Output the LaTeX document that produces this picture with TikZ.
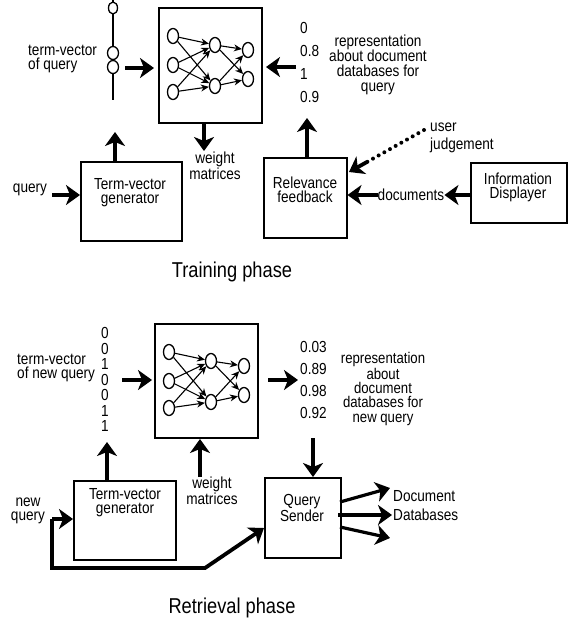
\documentclass[tikz,border=0pt]{standalone}
\usepackage{fontspec}
\setmainfont[FakeStretch=0.85]{Liberation Sans}
\usetikzlibrary{arrows.meta,shapes.geometric}
\newcommand\mynet[2]{%
  \begin{scope}[shift={#1}]
    \node[neuron] (#2i1) at (15,29) {};
    \node[neuron] (#2i2) at (15,58) {};
    \node[neuron] (#2i3) at (15,85) {};
    \node[neuron] (#2h1) at (57,38) {};
    \node[neuron] (#2h2) at (57,79) {};
    \node[neuron] (#2o1) at (90,43) {};
    \node[neuron] (#2o2) at (90,72) {};
    \foreach \i in {1,2,3} {\foreach \h in {1,2} {\draw[syn] (#2i\i) -- (#2h\h);}}
    \foreach \h in {1,2} {\foreach \o in {1,2} {\draw[syn] (#2h\h) -- (#2o\o);}}
  \end{scope}}
\begin{document}
\begin{tikzpicture}[x=1pt,y=-1pt,
  box/.style={draw, line width=1.5pt, inner sep=0, anchor=north west},
  netbox/.style={box, minimum width=103pt, minimum height=115pt},
  big/.style={line width=3.8pt, -{Stealth[length=14pt,width=20pt,inset=4pt]}},
  neuron/.style={draw, ellipse, minimum width=11pt, minimum height=15pt, inner sep=0, line width=1.3pt, fill=white},
  syn/.style={line width=1.1pt, -{Stealth[length=8pt,width=7pt]}},
  txt/.style={inner sep=0, font=\fontsize{16}{14}\selectfont, align=center},
  title/.style={inner sep=0, font=\fontsize{21.5}{24}\selectfont},
  dotline/.style={line width=4pt, line cap=round, dash pattern=on 0pt off 6.5pt}
]
\useasboundingbox (0,0) rectangle (573,619);
\fill[white] (0,0) rectangle (573,619);

% ================= Training phase =================
\coordinate (tvtop) at (113,0);
\coordinate (tvbot) at (113,100);
\draw[line width=1.3pt] (tvtop) -- (tvbot);
\node[neuron, minimum height=12pt, minimum width=9pt] (tvo1) at (113,8) {};
\node[neuron, minimum height=13pt] (tvo2) at (113,53) {};
\node[neuron, minimum height=13pt] (tvo3) at (113,67) {};
\node[txt, align=left, anchor=west] (tvq1) at (28,59) {term-vector\\of query};

\node[netbox] (nn1) at (158,7) {};
\mynet{(158,7)}{a}
\coordinate (tvq1a) at (125,68);
\coordinate (nn1in) at (154,68);
\draw[big] (tvq1a) -- (nn1in);

\node[txt, align=left, anchor=west, font=\fontsize{16}{22.8}\selectfont] (num1) at (300,62.5) {0\\0.8\\1\\0.9};
\coordinate (num1a) at (296,67);
\coordinate (nn1out) at (266,67);
\draw[big] (num1a) -- (nn1out);
\node[txt, font=\fontsize{16}{15}\selectfont] (rep1) at (378,65) {representation\\about document\\databases for\\query};

\node[txt] (wm1) at (215,166) {weight\\matrices};
\coordinate (nn1b) at (204,122);
\coordinate (wm1a) at (204,151);
\draw[big] (nn1b) -- (wm1a);

\node[box, minimum width=101pt, minimum height=79pt] (tvg1) at (80,161) {};
\node[txt] (tvg1t) at (130,193) {Term-vector\\generator};
\coordinate (tv1up) at (115,132);
\draw[big] (tvg1.north -| tv1up) -- (tv1up);

\node[txt] (q1) at (30,190) {query};
\coordinate (q1a) at (52,195);
\draw[big] (q1a) -- (tvg1.west |- q1a);

\node[box, minimum width=83pt, minimum height=80pt] (rf) at (263,157) {};
\node[txt] (rft) at (305,190) {Relevance\\feedback};
\coordinate (rfup) at (307,118);
\draw[big] (rf.north -| rfup) -- (rfup);

\node[box, minimum width=96pt, minimum height=60pt] (id) at (470,162) {};
\node[txt] (idt) at (518,187) {Information\\Displayer};
\node[txt] (docs) at (411,195) {documents};
\coordinate (docy) at (0,195);
\draw[big] (id.west |- docy) -- (docs.east);
\draw[big] (docs.west) -- (rf.east |- docy);

\node[txt, align=left, anchor=west, font=\fontsize{16}{18}\selectfont] (uj) at (430,138) {user\\judgement};
\coordinate (ujs) at (424,130);
\coordinate (ujm) at (367,162);
\coordinate (rfj) at (349,172);
\draw[dotline] (ujs) -- (ujm);
\draw[big] (ujm) -- (rfj);

\node[title] (tp) at (232,272) {Training phase};

% ================= Retrieval phase =================
\node[txt, font=\fontsize{16}{15.5}\selectfont] (dig) at (105,379.5) {0\\0\\1\\0\\0\\1\\1};
\node[txt, align=left, anchor=west] (tvq2) at (17,368) {term-vector\\of new query};

\node[netbox, minimum height=114pt] (nn2) at (154,323) {};
\mynet{(154,323)}{b}
\coordinate (tv2a) at (122,380);
\coordinate (nn2in) at (152,380);
\draw[big] (tv2a) -- (nn2in);
\coordinate (nn2out) at (268,380);
\coordinate (num2in) at (298,380);
\draw[big] (nn2out) -- (num2in);

\node[txt, align=left, anchor=west, font=\fontsize{16}{21.7}\selectfont] (num2) at (300,380) {0.03\\0.89\\0.98\\0.92};
\node[txt, font=\fontsize{15.5}{14.2}\selectfont] (rep2) at (383,389) {representation\\about\\document\\databases for\\new query};

\node[box, minimum width=76pt, minimum height=80pt] (qs) at (264,477) {};
\node[txt] (qst) at (302,508) {Query\\Sender};
\coordinate (num2d) at (313,438);
\draw[big] (num2d) -- (qs.north -| num2d);

\coordinate (qs1) at (340,502);
\coordinate (qs2) at (338,515);
\coordinate (qs3) at (340,527);
\coordinate (o1) at (390,488);
\coordinate (o2) at (392,515);
\coordinate (o3) at (390,538);
\draw[big, line width=3.2pt] (qs1) -- (o1);
\draw[big, line width=3.2pt] (qs2) -- (o2);
\draw[big, line width=3.2pt] (qs3) -- (o3);
\node[txt, align=left, anchor=west, font=\fontsize{16}{19}\selectfont] (ddb) at (393,506) {Document\\Databases};

\node[box, minimum width=102pt, minimum height=79pt] (tvg2) at (73,480) {};
\node[txt] (tvg2t) at (125,503) {Term-vector\\generator};
\coordinate (dgin) at (107,442);
\draw[big] (tvg2.north -| dgin) -- (dgin);

\node[txt] (wm2) at (212,491) {weight\\matrices};
\coordinate (wm2a) at (200,477);
\coordinate (nn2b) at (200,439);
\draw[big] (wm2a) -- (nn2b);

\node[txt] (nq) at (28,511) {new\\query};
\coordinate (nqa) at (52,519);
\draw[big] (nqa) -- (tvg2.west |- nqa);
\coordinate (byp1) at (52,568);
\coordinate (byp2) at (205,568);
\coordinate (qsin) at (qs.west |- 0,528);
\draw[big, line join=miter] (nqa) -- (byp1) -- (byp2) -- (qsin);

\node[title] (rp) at (232,608) {Retrieval phase};
\end{tikzpicture}
\end{document}
